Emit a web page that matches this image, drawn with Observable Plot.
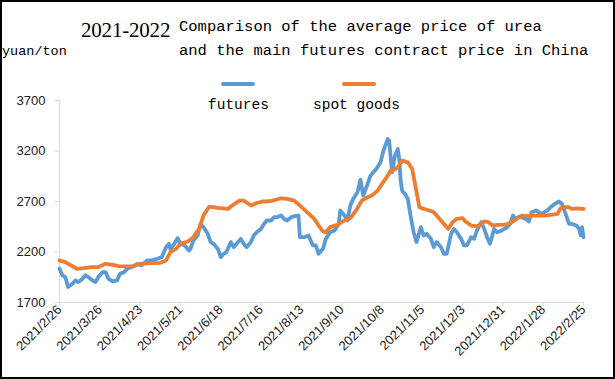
<!DOCTYPE html>
<html>
<head>
<meta charset="utf-8">
<script src="https://cdn.jsdelivr.net/npm/d3@7"></script>
<script src="https://cdn.jsdelivr.net/npm/@observablehq/plot@0.6"></script>
<style>
  html, body { margin: 0; padding: 0; background: #fff; }
  #frame { position: relative; width: 615px; height: 379px; box-sizing: border-box; border: 2px solid #000; background: #fff; overflow: hidden; }
  #header { position: relative; height: 88px; }
  .mono { font-family: "Liberation Mono", "DejaVu Sans Mono", monospace; color: #000; position: absolute; white-space: nowrap; }
  #unit { left: 0px; top: 42px; font-size: 13.5px; }
  #year { position: absolute; left: 79px; top: 16px; font-family: "Liberation Serif", serif; font-size: 21px; letter-spacing: -0.2px; color: #000; }
  #t1 { left: 177px; top: 16px; font-size: 15.5px; }
  #t2 { left: 177px; top: 40px; font-size: 15.5px; }
  .swatch { position: absolute; height: 4px; border-radius: 2px; width: 34px; top: 80px; }
  .legtext { top: 95px; font-size: 14.5px; }
  #chart { position: absolute; left: 0; top: 88px; }
</style>
</head>
<body>
<div id="frame">
  <div id="header">
    <div class="mono" id="unit">yuan/ton</div>
    <div id="year">2021-2022</div>
    <div class="mono" id="t1">Comparison of the average price of urea</div>
    <div class="mono" id="t2">and the main futures contract price in China</div>
  </div>
  <div id="legend"></div>
  <div id="chart"></div>
</div>
<script>
const seriesNames = ["futures", "spot goods"];
const seriesColors = ["#5B9BD5", "#ED7D31"];

const tickLabels = ["2021/2/26","2021/3/26","2021/4/23","2021/5/21","2021/6/18","2021/7/16","2021/8/13","2021/9/10","2021/10/8","2021/11/5","2021/12/3","2021/12/31","2022/1/28","2022/2/25"];
const yTicks = [1700, 2200, 2700, 3200, 3700];

const futuresDates = ["2021-02-26","2021-02-28","2021-03-02","2021-03-04","2021-03-07","2021-03-09","2021-03-11","2021-03-14","2021-03-16","2021-03-18","2021-03-21","2021-03-23","2021-03-25","2021-03-28","2021-03-30","2021-04-01","2021-04-04","2021-04-07","2021-04-09","2021-04-12","2021-04-14","2021-04-17","2021-04-21","2021-04-24","2021-04-28","2021-05-01","2021-05-05","2021-05-08","2021-05-11","2021-05-13","2021-05-14","2021-05-16","2021-05-19","2021-05-21","2021-05-24","2021-05-27","2021-05-28","2021-05-30","2021-06-02","2021-06-04","2021-06-06","2021-06-09","2021-06-11","2021-06-13","2021-06-16","2021-06-18","2021-06-20","2021-06-22","2021-06-25","2021-06-27","2021-06-29","2021-07-02","2021-07-04","2021-07-06","2021-07-09","2021-07-11","2021-07-13","2021-07-16","2021-07-18","2021-07-20","2021-07-23","2021-07-25","2021-07-27","2021-07-30","2021-08-01","2021-08-03","2021-08-06","2021-08-08","2021-08-11","2021-08-12","2021-08-15","2021-08-18","2021-08-21","2021-08-23","2021-08-25","2021-08-28","2021-08-30","2021-09-02","2021-09-05","2021-09-08","2021-09-09","2021-09-12","2021-09-14","2021-09-16","2021-09-18","2021-09-21","2021-09-23","2021-09-25","2021-09-28","2021-09-30","2021-10-04","2021-10-07","2021-10-09","2021-10-12","2021-10-13","2021-10-15","2021-10-17","2021-10-19","2021-10-20","2021-10-21","2021-10-22","2021-10-24","2021-10-26","2021-10-28","2021-10-30","2021-11-01","2021-11-04","2021-11-06","2021-11-08","2021-11-11","2021-11-13","2021-11-15","2021-11-18","2021-11-20","2021-11-22","2021-11-25","2021-11-27","2021-11-29","2021-12-02","2021-12-04","2021-12-06","2021-12-09","2021-12-11","2021-12-13","2021-12-16","2021-12-18","2021-12-20","2021-12-22","2021-12-25","2021-12-27","2021-12-29","2022-01-01","2022-01-03","2022-01-05","2022-01-07","2022-01-09","2022-01-11","2022-01-13","2022-01-16","2022-01-18","2022-01-20","2022-01-23","2022-01-25","2022-01-26","2022-01-29","2022-01-31","2022-02-02","2022-02-05","2022-02-08","2022-02-10","2022-02-13","2022-02-15","2022-02-17","2022-02-20","2022-02-22","2022-02-23","2022-02-24","2022-02-25"];
const futuresValues = [2034,1969,1952,1853,1886,1919,1902,1935,1969,1952,1919,1902,1952,2001,2001,1935,1909,1919,1985,2001,2034,2051,2083,2067,2117,2117,2133,2149,2248,2281,2231,2265,2337,2281,2265,2215,2231,2314,2364,2478,2446,2380,2298,2281,2231,2149,2182,2199,2298,2248,2281,2330,2281,2248,2298,2364,2396,2429,2478,2512,2512,2545,2545,2561,2528,2512,2545,2554,2561,2347,2347,2364,2265,2265,2182,2231,2330,2396,2413,2478,2611,2561,2512,2660,2726,2791,2917,2759,2873,2956,3022,3088,3203,3318,3302,2989,3154,3219,3120,2907,2808,2775,2725,2545,2396,2298,2446,2363,2380,2330,2248,2298,2248,2182,2182,2380,2429,2396,2330,2265,2265,2347,2330,2413,2495,2429,2347,2281,2429,2396,2403,2429,2446,2478,2561,2528,2545,2545,2528,2502,2594,2611,2594,2577,2594,2611,2643,2676,2700,2676,2561,2478,2478,2462,2429,2364,2446,2347];

const spotDates = ["2021-02-26","2021-03-02","2021-03-06","2021-03-10","2021-03-15","2021-03-20","2021-03-25","2021-03-30","2021-04-04","2021-04-08","2021-04-14","2021-04-19","2021-04-23","2021-04-30","2021-05-07","2021-05-11","2021-05-14","2021-05-18","2021-05-21","2021-05-26","2021-05-30","2021-06-03","2021-06-06","2021-06-10","2021-06-16","2021-06-23","2021-06-26","2021-07-01","2021-07-04","2021-07-09","2021-07-13","2021-07-17","2021-07-20","2021-07-24","2021-07-30","2021-08-03","2021-08-08","2021-08-12","2021-08-17","2021-08-22","2021-08-25","2021-08-28","2021-08-30","2021-09-02","2021-09-07","2021-09-12","2021-09-16","2021-09-20","2021-09-24","2021-09-28","2021-10-01","2021-10-05","2021-10-08","2021-10-12","2021-10-14","2021-10-17","2021-10-20","2021-10-22","2021-10-26","2021-10-29","2021-10-31","2021-11-03","2021-11-06","2021-11-10","2021-11-13","2021-11-15","2021-11-18","2021-11-21","2021-11-23","2021-11-26","2021-11-29","2021-12-03","2021-12-05","2021-12-09","2021-12-13","2021-12-16","2021-12-18","2021-12-21","2021-12-24","2021-12-27","2022-01-01","2022-01-04","2022-01-08","2022-01-11","2022-01-13","2022-01-17","2022-01-22","2022-01-29","2022-02-02","2022-02-07","2022-02-09","2022-02-11","2022-02-15","2022-02-17","2022-02-21","2022-02-25"];
const spotValues = [2117,2100,2067,2034,2041,2051,2051,2083,2073,2061,2058,2061,2083,2090,2093,2117,2199,2231,2281,2304,2347,2429,2561,2650,2636,2626,2660,2709,2709,2660,2685,2700,2700,2709,2732,2726,2709,2660,2594,2528,2462,2403,2396,2446,2469,2512,2535,2611,2709,2742,2759,2808,2873,2956,3006,3017,3055,3105,3088,3022,2873,2643,2627,2611,2594,2561,2512,2462,2429,2495,2528,2535,2502,2462,2455,2479,2502,2495,2462,2469,2472,2479,2512,2545,2561,2554,2561,2561,2568,2577,2633,2643,2643,2626,2633,2626];

const parseDay = d3.utcParse("%Y-%m-%d");
const parseTick = d3.utcParse("%Y/%m/%d");
const tickDates = tickLabels.map(parseTick);
const fmtTick = d => `${d.getUTCFullYear()}/${d.getUTCMonth() + 1}/${d.getUTCDate()}`;

const rows = [
  ...futuresDates.map((d, i) => ({date: parseDay(d), value: futuresValues[i], series: seriesNames[0]})),
  ...spotDates.map((d, i) => ({date: parseDay(d), value: spotValues[i], series: seriesNames[1]}))
];

// legend (HTML, above the SVG)
const legend = document.getElementById("legend");
const legendPos = [{sw: 219, tx: 206}, {sw: 340, tx: 311}];
seriesNames.forEach((name, i) => {
  const s = document.createElement("div");
  s.className = "swatch";
  s.style.left = legendPos[i].sw + "px";
  s.style.background = seriesColors[i];
  legend.appendChild(s);
  const t = document.createElement("div");
  t.className = "mono legtext";
  t.style.left = legendPos[i].tx + "px";
  t.textContent = name;
  legend.appendChild(t);
});

const axisGray = "#D9D9D9";
const chart = Plot.plot({
  width: 611,
  height: 287,
  marginLeft: 57,
  marginRight: 30,
  marginTop: 10,
  marginBottom: 75,
  style: {fontFamily: "Liberation Sans, Arial, sans-serif", background: "transparent", color: "#222"},
  x: {type: "utc", domain: [tickDates[0], tickDates[tickDates.length - 1]]},
  y: {domain: [1700, 3700]},
  color: {domain: seriesNames, range: seriesColors},
  marks: [
    Plot.axisY(yTicks, {tickSize: 5, tickPadding: 9, fontSize: 13, tickFormat: d => String(d), stroke: axisGray, fill: "#222", label: null}),
    Plot.axisX(tickDates, {tickSize: 4, tickPadding: 1, tickRotate: -45, fontSize: 13, tickFormat: fmtTick, stroke: axisGray, fill: "#222", label: null}),
    Plot.ruleX([tickDates[0]], {stroke: axisGray, strokeWidth: 1}),
    Plot.ruleY([1700], {stroke: axisGray, strokeWidth: 1}),
    Plot.line(rows, {x: "date", y: "value", z: "series", stroke: "series", strokeWidth: 3.8, strokeLinejoin: "round", strokeLinecap: "round"})
  ]
});
document.getElementById("chart").appendChild(chart);
</script>
</body>
</html>
